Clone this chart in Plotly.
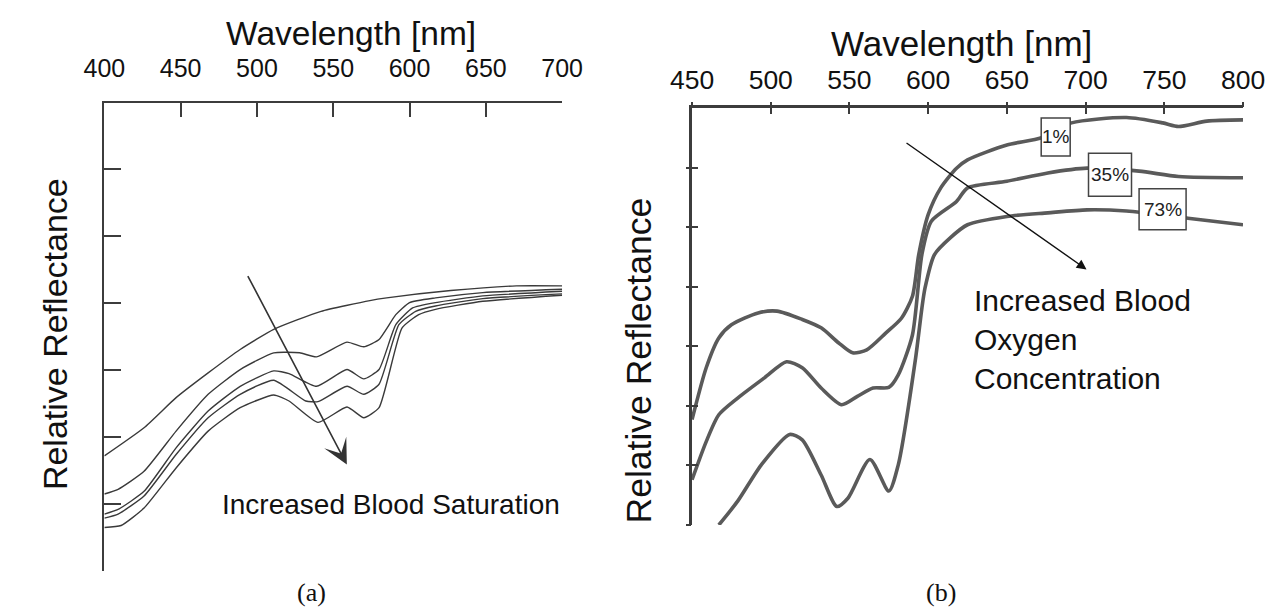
import plotly.graph_objects as go

# ---------------- data: panel (a) ----------------
a_wl_1 = [400, 426, 447, 468, 489, 511, 542, 574, 585, 627, 670, 700]
a_v_1 = [1.72, 2.14, 2.59, 2.96, 3.31, 3.61, 3.88, 4.04, 4.08, 4.19, 4.26, 4.26]

a_wl_2 = [400, 409, 426, 447, 468, 489, 511, 528, 539, 559, 570, 580, 591, 600, 617, 648, 700]
a_v_2 = [1.15, 1.22, 1.49, 2.09, 2.64, 3.01, 3.26, 3.26, 3.20, 3.42, 3.35, 3.46, 3.83, 4.01, 4.08, 4.16, 4.21]

a_wl_3 = [400, 409, 426, 447, 468, 489, 511, 521, 539, 559, 570, 580, 591, 602, 617, 648, 700]
a_v_3 = [0.85, 0.92, 1.19, 1.84, 2.39, 2.76, 2.99, 2.95, 2.76, 3.01, 2.87, 3.01, 3.68, 3.93, 4.01, 4.11, 4.18]

a_wl_4 = [400, 409, 426, 447, 468, 489, 511, 532, 540, 559, 570, 580, 593, 604, 617, 648, 700]
a_v_4 = [0.79, 0.85, 1.12, 1.74, 2.29, 2.64, 2.85, 2.54, 2.53, 2.76, 2.64, 2.79, 3.68, 3.88, 3.96, 4.07, 4.14]

a_wl_5 = [400, 411, 426, 447, 468, 489, 511, 521, 540, 559, 570, 580, 595, 606, 617, 648, 700]
a_v_5 = [0.65, 0.68, 0.94, 1.54, 2.09, 2.44, 2.63, 2.54, 2.22, 2.45, 2.29, 2.44, 3.63, 3.83, 3.91, 4.03, 4.12]

a_xticks = [400, 450, 500, 550, 600, 650, 700]
a_yticks = [0, 1, 2, 3, 4, 5, 6]

# ---------------- data: panel (b) ----------------
b_wl_1 = [450, 459, 467, 475, 492, 504, 520, 532, 543, 552, 561, 573, 583, 590, 594, 600, 608, 618,
          625, 650, 672, 691, 726, 749, 759, 777, 800]
b_v_1 = [1.77, 2.64, 3.14, 3.36, 3.56, 3.59, 3.45, 3.31, 3.06, 2.89, 2.94, 3.22, 3.47, 3.84, 4.54, 5.21, 5.66, 5.99,
         6.13, 6.38, 6.50, 6.75, 6.84, 6.75, 6.69, 6.78, 6.80]

b_wl_35 = [450, 459, 467, 479, 496, 510, 520, 532, 545, 555, 565, 575, 581, 590, 596, 602, 618, 625,
           650, 676, 701, 734, 759, 800]
b_v_35 = [0.76, 1.40, 1.85, 2.13, 2.47, 2.74, 2.64, 2.30, 2.02, 2.16, 2.30, 2.31, 2.52, 3.19, 4.54, 5.10, 5.43, 5.66,
          5.77, 5.91, 5.99, 5.94, 5.85, 5.83]

b_wl_73 = [467, 479, 494, 512, 520, 532, 542, 549, 563, 575, 581, 592, 596, 598, 604, 614, 625,
           650, 676, 701, 726, 765, 800]
b_v_73 = [0.0, 0.40, 1.01, 1.52, 1.43, 0.84, 0.31, 0.45, 1.10, 0.57, 1.01, 2.80, 3.64, 3.98, 4.54, 4.82, 5.04,
          5.18, 5.24, 5.29, 5.27, 5.15, 5.04]

b_xticks = [450, 500, 550, 600, 650, 700, 750, 800]
b_yticks = [0, 1, 2, 3, 4, 5, 6]

b_labels = ["1%", "35%", "73%"]
b_label_wl = [681.0, 715.5, 748.9]
b_label_v = [6.515, 5.88, 5.30]
b_label_w = [29, 43, 47]
b_label_h = [38, 43, 41]

# ---------------- figure ----------------
SANS = "Liberation Sans, Arial, sans-serif"
SERIF = "Liberation Serif, Times New Roman, serif"
W, H = 1286, 608

fig = go.Figure()

a_line = dict(color="#3a3a3a", width=1.4)
for wl, v in [(a_wl_1, a_v_1), (a_wl_2, a_v_2), (a_wl_3, a_v_3), (a_wl_4, a_v_4), (a_wl_5, a_v_5)]:
    fig.add_trace(go.Scatter(x=wl, y=v, mode="lines", line=dict(shape="spline", smoothing=0.5, **a_line),
                             xaxis="x", yaxis="y", hoverinfo="skip"))

b_line = dict(color="#5a5a5a", width=3.6)
for wl, v in [(b_wl_1, b_v_1), (b_wl_35, b_v_35), (b_wl_73, b_v_73)]:
    fig.add_trace(go.Scatter(x=wl, y=v, mode="lines", line=dict(shape="spline", smoothing=0.7, **b_line),
                             xaxis="x2", yaxis="y2", hoverinfo="skip"))

# invisible trace to carry the outer-tick overlay axes of panel (b)
fig.add_trace(go.Scatter(x=[], y=[], mode="lines", xaxis="x4", yaxis="y4", hoverinfo="skip"))

ax_a = "#3c3c3c"
ax_b = "#3c3c3c"

fig.update_layout(
    width=W, height=H,
    margin=dict(l=0, r=0, t=0, b=0),
    paper_bgcolor="white", plot_bgcolor="white",
    showlegend=False,
    xaxis=dict(domain=[77 / W, 551 / W], range=[400, 700], side="top", anchor="y",
               showline=True, linecolor=ax_a, linewidth=2, mirror=False,
               ticks="inside", ticklen=14, tickwidth=2, tickcolor=ax_a,
               tickvals=a_xticks, ticktext=[str(t) for t in a_xticks],
               tickfont=dict(family=SANS, size=25, color="#111"), ticklabelstandoff=14,
               showgrid=False, zeroline=False, fixedrange=True),
    yaxis=dict(domain=[(H - 563) / H, (H - 94.5) / H], range=[0, 7], anchor="x",
               showline=True, linecolor=ax_a, linewidth=2,
               ticks="inside", ticklen=17, tickwidth=2, tickcolor=ax_a,
               tickvals=a_yticks, showticklabels=False,
               showgrid=False, zeroline=False, fixedrange=True),
    xaxis2=dict(domain=[685.5 / W, 1256 / W], range=[450, 800], side="top", anchor="y2",
                showline=True, linecolor=ax_b, linewidth=3,
                ticks="inside", ticklen=6, tickwidth=2, tickcolor=ax_b,
                tickvals=b_xticks, ticktext=[str(t) for t in b_xticks],
                tickfont=dict(family=SANS, size=26.5, color="#111"), ticklabelstandoff=5,
                showgrid=False, zeroline=False, fixedrange=True),
    yaxis2=dict(domain=[(H - 517) / H, (H - 100) / H], range=[0, 7], anchor="x2",
                showline=True, linecolor=ax_b, linewidth=3,
                ticks="inside", ticklen=6, tickwidth=2, tickcolor=ax_b,
                tickvals=b_yticks, showticklabels=False,
                showgrid=False, zeroline=False, fixedrange=True),
    xaxis4=dict(overlaying="x2", range=[450, 800], side="top", anchor="y4",
                showline=False, ticks="outside", ticklen=5, tickwidth=2, tickcolor=ax_b,
                tickvals=b_xticks, showticklabels=False,
                showgrid=False, zeroline=False, fixedrange=True),
    yaxis4=dict(overlaying="y2", range=[0, 7], anchor="x4", side="left",
                showline=False, ticks="outside", ticklen=5, tickwidth=2, tickcolor=ax_b,
                tickvals=b_yticks, showticklabels=False,
                showgrid=False, zeroline=False, fixedrange=True),
)

# white label boxes of panel (b), sized in pixels around each label position
shapes = []
for wl, v, w, h in zip(b_label_wl, b_label_v, b_label_w, b_label_h):
    shapes.append(dict(type="rect", xref="x2", yref="y2", layer="above",
                       xsizemode="pixel", xanchor=wl, x0=-w / 2, x1=w / 2,
                       ysizemode="pixel", yanchor=v, y0=-h / 2, y1=h / 2,
                       fillcolor="white", line=dict(color="#444", width=1.5)))
fig.update_layout(shapes=shapes)

ann = []
# titles
ann.append(dict(text="Wavelength [nm]", x=332 / W, y=1 - 25 / H, xref="paper", yref="paper",
                showarrow=False, xanchor="center", yanchor="middle",
                font=dict(family=SANS, size=33.5, color="#111")))
ann.append(dict(text="Wavelength [nm]", x=964 / W, y=1 - 35.5 / H, xref="paper", yref="paper",
                showarrow=False, xanchor="center", yanchor="middle",
                font=dict(family=SANS, size=35, color="#111")))
# y labels
ann.append(dict(text="Relative Reflectance", x=26 / W, y=1 - 326 / H, xref="paper", yref="paper",
                showarrow=False, textangle=-90, xanchor="center", yanchor="middle",
                font=dict(family=SANS, size=34, color="#111")))
ann.append(dict(text="Relative Reflectance", x=631 / W, y=1 - 352 / H, xref="paper", yref="paper",
                showarrow=False, textangle=-90, xanchor="center", yanchor="middle",
                font=dict(family=SANS, size=35.5, color="#111")))
# panel letters
ann.append(dict(text="(a)", x=291 / W, y=1 - 584 / H, xref="paper", yref="paper",
                showarrow=False, xanchor="center", yanchor="middle",
                font=dict(family=SERIF, size=26, color="#111")))
ann.append(dict(text="(b)", x=943 / W, y=1 - 584 / H, xref="paper", yref="paper",
                showarrow=False, xanchor="center", yanchor="middle",
                font=dict(family=SERIF, size=26, color="#111")))
# panel (a) arrow and text
ann.append(dict(x=558.9, y=1.59, ax=493.5, ay=4.43, xref="x", yref="y", axref="x", ayref="y",
                showarrow=True, arrowhead=3, arrowsize=2.6, arrowwidth=1.6, arrowcolor="#333", text=""))
ann.append(dict(text="Increased Blood Saturation", x=197 / W, y=1 - 496.5 / H, xref="paper", yref="paper",
                showarrow=False, xanchor="left", yanchor="middle",
                font=dict(family=SANS, size=28, color="#111")))
# panel (b) arrow and text
ann.append(dict(x=700.6, y=4.29, ax=585.3, ay=6.43, xref="x2", yref="y2", axref="x2", ayref="y2",
                showarrow=True, arrowhead=2, arrowsize=1.4, arrowwidth=1.4, arrowcolor="#111", text=""))
ann.append(dict(text="Increased Blood<br>Oxygen<br>Concentration", x=975 / W, y=1 - 331 / H,
                xref="paper", yref="paper", showarrow=False, xanchor="left", yanchor="middle", align="left",
                font=dict(family=SANS, size=30, color="#111")))
# panel (b) label texts
for t, wl, v in zip(b_labels, b_label_wl, b_label_v):
    ann.append(dict(text=t, x=wl, y=v, xref="x2", yref="y2", showarrow=False,
                    xanchor="center", yanchor="middle", borderpad=0,
                    font=dict(family=SANS, size=19, color="#222")))

fig.update_layout(annotations=ann)

fig.write_html("out.html")
